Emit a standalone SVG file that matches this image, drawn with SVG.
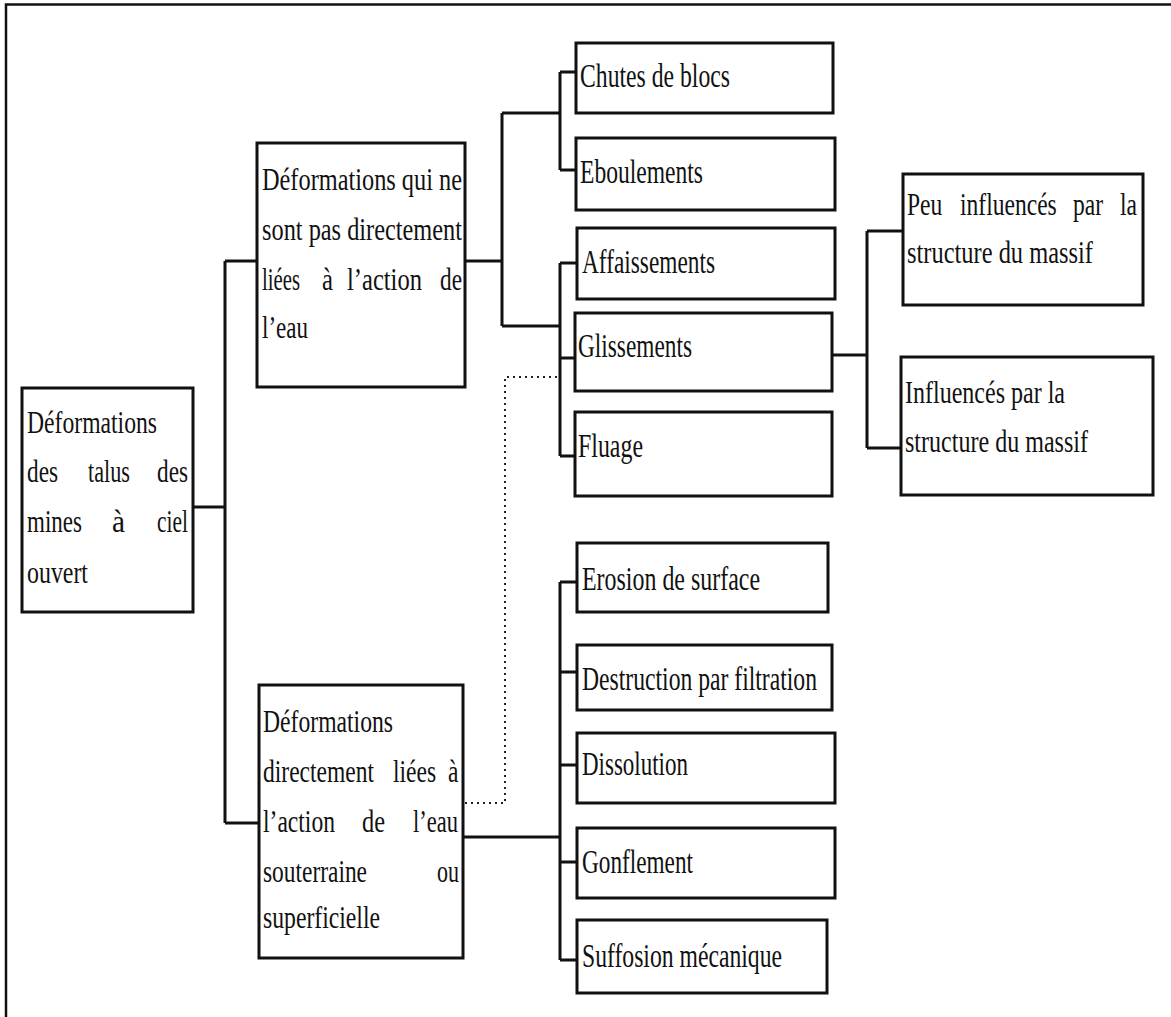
<svg xmlns="http://www.w3.org/2000/svg" width="1171" height="1017" viewBox="0 0 1171 1017">
<style>
.frame{fill:none;stroke:#111;stroke-width:2.5}
.box{fill:#fff;stroke:#111;stroke-width:3}
.wire{fill:none;stroke:#111;stroke-width:3}
.dot{fill:none;stroke:#222;stroke-width:2;stroke-dasharray:2 4}
text{font-family:"Liberation Serif","Times New Roman",serif;font-size:31px;fill:#111}
.r{font-size:34px}
</style>
<rect width="1171" height="1017" fill="#fff"/>
<path class="frame" d="M6,1017 V4.5 H1171"/>
<g id="connectors">
<path class="wire" d="M193,507 H225 M225,261 V823 M225,261 H257 M225,823 H259"/>
<path class="wire" d="M465,261 H502 M502,113 V326 M502,113 H560 M502,326 H560"/>
<path class="wire" d="M560,72 V170 M560,72 H576 M560,170 H576"/>
<path class="wire" d="M560,263 V456 M560,263 H577 M560,358 H575 M560,456 H575"/>
<path class="wire" d="M832,355 H867 M867,231 V448 M867,231 H903 M867,448 H901"/>
<path class="wire" d="M463,837 H560 M560,582 V960 M560,582 H577 M560,672 H577 M560,765 H577 M560,862 H577 M560,960 H577"/>
<path class="dot" d="M465,803 H505 V377 H558"/>
</g>
<g id="root">
<rect class="box" x="22" y="388" width="171" height="224"/>
<text x="27" y="433" textLength="130" lengthAdjust="spacingAndGlyphs">Déformations</text>
<text x="27" y="482" textLength="31" lengthAdjust="spacingAndGlyphs">des</text>
<text x="88" y="482" textLength="42" lengthAdjust="spacingAndGlyphs">talus</text>
<text x="157" y="482" textLength="31" lengthAdjust="spacingAndGlyphs">des</text>
<text x="27" y="532" textLength="55" lengthAdjust="spacingAndGlyphs">mines</text>
<text x="112" y="532" textLength="13" lengthAdjust="spacingAndGlyphs">à</text>
<text x="157" y="532" textLength="31" lengthAdjust="spacingAndGlyphs">ciel</text>
<text x="27" y="583" textLength="61" lengthAdjust="spacingAndGlyphs">ouvert</text>
</g>
<g id="non-water">
<rect class="box" x="257" y="143" width="208" height="244"/>
<text x="262" y="190" textLength="200" lengthAdjust="spacingAndGlyphs">Déformations qui ne</text>
<text x="262" y="240" textLength="200" lengthAdjust="spacingAndGlyphs">sont pas directement</text>
<text x="262" y="290" textLength="38" lengthAdjust="spacingAndGlyphs">liées</text>
<text x="322" y="290" textLength="11" lengthAdjust="spacingAndGlyphs">à</text>
<text x="347" y="290" textLength="75" lengthAdjust="spacingAndGlyphs">l’action</text>
<text x="440" y="290" textLength="22" lengthAdjust="spacingAndGlyphs">de</text>
<text x="262" y="338" textLength="46" lengthAdjust="spacingAndGlyphs">l’eau</text>
</g>
<g id="water">
<rect class="box" x="259" y="685" width="204" height="273"/>
<text x="263" y="732" textLength="130" lengthAdjust="spacingAndGlyphs">Déformations</text>
<text transform="translate(263,782) scale(0.76,1)">directement</text>
<text transform="translate(393,782) scale(0.76,1)">liées</text>
<text transform="translate(448,782) scale(0.76,1)">à</text>
<text x="263" y="832" textLength="72" lengthAdjust="spacingAndGlyphs">l’action</text>
<text x="362" y="832" textLength="23" lengthAdjust="spacingAndGlyphs">de</text>
<text x="413" y="832" textLength="45" lengthAdjust="spacingAndGlyphs">l’eau</text>
<text x="263" y="882" textLength="104" lengthAdjust="spacingAndGlyphs">souterraine</text>
<text x="437" y="882" textLength="22" lengthAdjust="spacingAndGlyphs">ou</text>
<text x="263" y="928" textLength="117" lengthAdjust="spacingAndGlyphs">superficielle</text>
</g>
<g id="chutes">
<rect class="box" x="576" y="43" width="257" height="70"/>
<text class="r" x="580" y="87" textLength="150" lengthAdjust="spacingAndGlyphs">Chutes de blocs</text>
</g>
<g id="eboulements">
<rect class="box" x="576" y="138" width="259" height="72"/>
<text class="r" x="580" y="183" textLength="123" lengthAdjust="spacingAndGlyphs">Eboulements</text>
</g>
<g id="affaissements">
<rect class="box" x="577" y="228" width="258" height="71"/>
<text class="r" x="582" y="273" textLength="133" lengthAdjust="spacingAndGlyphs">Affaissements</text>
</g>
<g id="glissements">
<rect class="box" x="575" y="313" width="257" height="78"/>
<text class="r" x="578" y="357" textLength="114" lengthAdjust="spacingAndGlyphs">Glissements</text>
</g>
<g id="fluage">
<rect class="box" x="575" y="412" width="257" height="84"/>
<text class="r" x="578" y="457" textLength="65" lengthAdjust="spacingAndGlyphs">Fluage</text>
</g>
<g id="peu-influences">
<rect class="box" x="903" y="174" width="240" height="131"/>
<text transform="translate(907,215) scale(0.76,1)">Peu</text>
<text transform="translate(960,215) scale(0.76,1)">influencés</text>
<text transform="translate(1073,215) scale(0.76,1)">par</text>
<text transform="translate(1120,215) scale(0.76,1)">la</text>
<text x="907" y="263" textLength="186" lengthAdjust="spacingAndGlyphs">structure du massif</text>
</g>
<g id="influences">
<rect class="box" x="901" y="357" width="252" height="138"/>
<text x="905" y="403" textLength="160" lengthAdjust="spacingAndGlyphs">Influencés par la</text>
<text x="905" y="452" textLength="183" lengthAdjust="spacingAndGlyphs">structure du massif</text>
</g>
<g id="erosion">
<rect class="box" x="577" y="543" width="251" height="69"/>
<text class="r" x="582" y="590" textLength="178" lengthAdjust="spacingAndGlyphs">Erosion de surface</text>
</g>
<g id="destruction">
<rect class="box" x="577" y="645" width="255" height="65"/>
<text class="r" x="582" y="690" textLength="235" lengthAdjust="spacingAndGlyphs">Destruction par filtration</text>
</g>
<g id="dissolution">
<rect class="box" x="577" y="733" width="258" height="70"/>
<text class="r" x="582" y="775" textLength="106" lengthAdjust="spacingAndGlyphs">Dissolution</text>
</g>
<g id="gonflement">
<rect class="box" x="577" y="828" width="258" height="70"/>
<text class="r" x="582" y="873" textLength="111" lengthAdjust="spacingAndGlyphs">Gonflement</text>
</g>
<g id="suffosion">
<rect class="box" x="577" y="920" width="250" height="73"/>
<text class="r" x="582" y="967" textLength="200" lengthAdjust="spacingAndGlyphs">Suffosion mécanique</text>
</g>
</svg>
